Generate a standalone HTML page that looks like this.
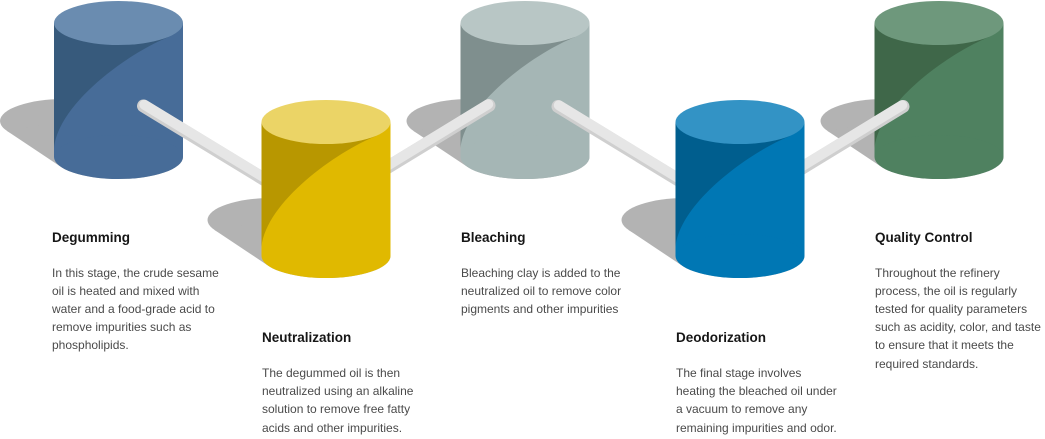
<!DOCTYPE html>
<html>
<head>
<meta charset="utf-8">
<style>
  html,body{margin:0;padding:0;background:#fff;}
  body{width:1045px;height:439px;position:relative;overflow:hidden;font-family:"Liberation Sans",Arial,sans-serif;}
  svg{position:absolute;left:0;top:0;}
  .t{position:absolute;font-weight:bold;font-size:13.5px;line-height:16px;color:#161616;white-space:nowrap;}
  .b{position:absolute;font-size:12px;line-height:18.2px;color:#4a4a4a;white-space:nowrap;}
</style>
</head>
<body>
<svg width="1045" height="439" viewBox="0 0 1045 439" xmlns="http://www.w3.org/2000/svg">
  <!-- top row shadows -->
  <g fill="#b3b3b3">
    <g transform="translate(118.5,157)">
      <ellipse cx="0" cy="0" rx="64.5" ry="22"/>
      <ellipse cx="-54" cy="-36" rx="64.5" ry="22"/>
      <polygon points="57.4,-10 -57.4,10 -111.4,-26 3.4,-46"/>
    </g>
    <g transform="translate(525,157)">
      <ellipse cx="0" cy="0" rx="64.5" ry="22"/>
      <ellipse cx="-54" cy="-36" rx="64.5" ry="22"/>
      <polygon points="57.4,-10 -57.4,10 -111.4,-26 3.4,-46"/>
    </g>
    <g transform="translate(939,157)">
      <ellipse cx="0" cy="0" rx="64.5" ry="22"/>
      <ellipse cx="-54" cy="-36" rx="64.5" ry="22"/>
      <polygon points="57.4,-10 -57.4,10 -111.4,-26 3.4,-46"/>
    </g>
  </g>

  <!-- cylinder 1 -->
  <g transform="translate(118.5,23)">
    <rect x="-64.5" y="0" width="129" height="134" fill="#476c98"/>
    <ellipse cx="0" cy="134" rx="64.5" ry="22" fill="#476c98"/>
    <path d="M-64.5,0 L-64.5,125 C-60,80 10,30 50,14 L50,0 Z" fill="#375a7c"/>
    <ellipse cx="0" cy="0" rx="64.5" ry="22" fill="#6a8cb0"/>
  </g>
  <!-- cylinder 3 -->
  <g transform="translate(525,23)">
    <rect x="-64.5" y="0" width="129" height="134" fill="#a5b6b5"/>
    <ellipse cx="0" cy="134" rx="64.5" ry="22" fill="#a5b6b5"/>
    <path d="M-64.5,0 L-64.5,125 C-60,80 10,30 50,14 L50,0 Z" fill="#7f8f8e"/>
    <ellipse cx="0" cy="0" rx="64.5" ry="22" fill="#b8c6c5"/>
  </g>
  <!-- cylinder 5 -->
  <g transform="translate(939,23)">
    <rect x="-64.5" y="0" width="129" height="134" fill="#4f8160"/>
    <ellipse cx="0" cy="134" rx="64.5" ry="22" fill="#4f8160"/>
    <path d="M-64.5,0 L-64.5,125 C-60,80 10,30 50,14 L50,0 Z" fill="#3f6749"/>
    <ellipse cx="0" cy="0" rx="64.5" ry="22" fill="#6e987c"/>
  </g>

  <!-- pipes -->
  <g stroke-linecap="round" fill="none">
    <!-- pipe 1 -->
    <line x1="143.5" y1="106" x2="326" y2="217" stroke="#cfcfcf" stroke-width="13"/>
    <line x1="144.3" y1="104.7" x2="326.8" y2="215.7" stroke="#e6e6e6" stroke-width="10"/>
    <!-- pipe 2 -->
    <line x1="489" y1="105.5" x2="326" y2="205" stroke="#cfcfcf" stroke-width="13"/>
    <line x1="488.2" y1="104.2" x2="325.2" y2="203.7" stroke="#e6e6e6" stroke-width="10"/>
    <!-- pipe 3 -->
    <line x1="558" y1="106.5" x2="740" y2="217.5" stroke="#cfcfcf" stroke-width="13"/>
    <line x1="558.8" y1="105.2" x2="740.8" y2="216.2" stroke="#e6e6e6" stroke-width="10"/>
    <!-- pipe 4 -->
    <line x1="903" y1="106.5" x2="740" y2="206" stroke="#cfcfcf" stroke-width="13"/>
    <line x1="902.2" y1="105.2" x2="739.2" y2="204.7" stroke="#e6e6e6" stroke-width="10"/>
  </g>

  <!-- bottom row shadows -->
  <g fill="#b3b3b3">
    <g transform="translate(326,256)">
      <ellipse cx="0" cy="0" rx="64.5" ry="22"/>
      <ellipse cx="-54" cy="-36" rx="64.5" ry="22"/>
      <polygon points="57.4,-10 -57.4,10 -111.4,-26 3.4,-46"/>
    </g>
    <g transform="translate(740,256)">
      <ellipse cx="0" cy="0" rx="64.5" ry="22"/>
      <ellipse cx="-54" cy="-36" rx="64.5" ry="22"/>
      <polygon points="57.4,-10 -57.4,10 -111.4,-26 3.4,-46"/>
    </g>
  </g>

  <!-- cylinder 2 -->
  <g transform="translate(326,122)">
    <rect x="-64.5" y="0" width="129" height="134" fill="#e0b900"/>
    <ellipse cx="0" cy="134" rx="64.5" ry="22" fill="#e0b900"/>
    <path d="M-64.5,0 L-64.5,125 C-60,80 10,30 50,14 L50,0 Z" fill="#b89700"/>
    <ellipse cx="0" cy="0" rx="64.5" ry="22" fill="#ebd466"/>
  </g>
  <!-- cylinder 4 -->
  <g transform="translate(740,122)">
    <rect x="-64.5" y="0" width="129" height="134" fill="#0077b4"/>
    <ellipse cx="0" cy="134" rx="64.5" ry="22" fill="#0077b4"/>
    <path d="M-64.5,0 L-64.5,125 C-60,80 10,30 50,14 L50,0 Z" fill="#005e8e"/>
    <ellipse cx="0" cy="0" rx="64.5" ry="22" fill="#3393c5"/>
  </g>
</svg>

<div class="t" style="left:52px;top:229.5px;">Degumming</div>
<div class="b" style="left:52px;top:263.5px;">In this stage, the crude sesame<br>oil is heated and mixed with<br>water and a food-grade acid to<br>remove impurities such as<br>phospholipids.</div>

<div class="t" style="left:262px;top:329.5px;">Neutralization</div>
<div class="b" style="left:262px;top:364px;">The degummed oil is then<br>neutralized using an alkaline<br>solution to remove free fatty<br>acids and other impurities.</div>

<div class="t" style="left:461px;top:229.5px;">Bleaching</div>
<div class="b" style="left:461px;top:263.5px;">Bleaching clay is added to the<br>neutralized oil to remove color<br>pigments and other impurities</div>

<div class="t" style="left:676px;top:329.5px;">Deodorization</div>
<div class="b" style="left:676px;top:364px;">The final stage involves<br>heating the bleached oil under<br>a vacuum to remove any<br>remaining impurities and odor.</div>

<div class="t" style="left:875px;top:229.5px;">Quality Control</div>
<div class="b" style="left:875px;top:263.5px;">Throughout the refinery<br>process, the oil is regularly<br>tested for quality parameters<br>such as acidity, color, and taste<br>to ensure that it meets the<br>required standards.</div>
</body>
</html>
